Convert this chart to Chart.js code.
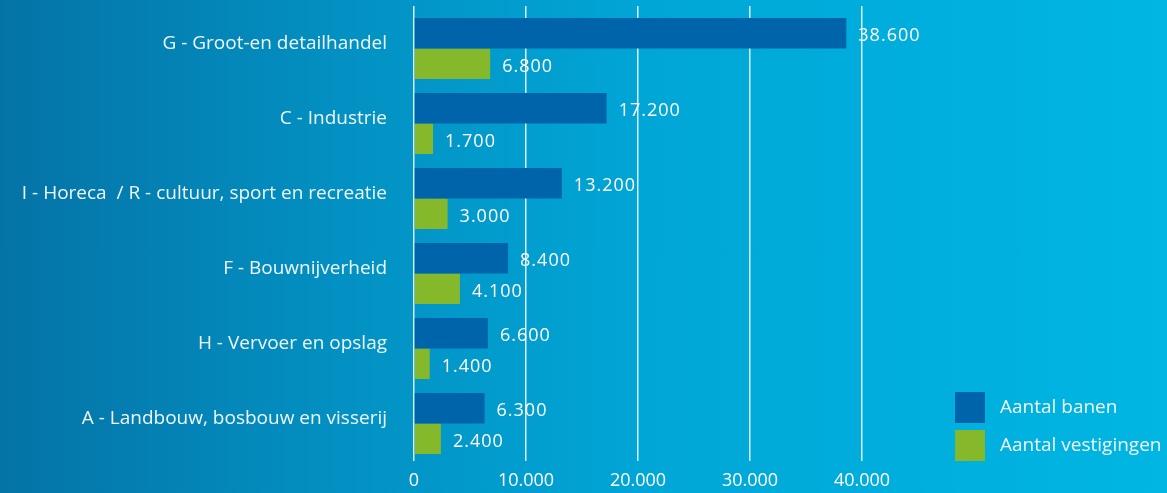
<!DOCTYPE html>
<html lang="nl">
<head>
    <meta charset="UTF-8">
    <title>Banen en vestigingen per sector</title>
    <script src="https://cdn.jsdelivr.net/npm/chart.js"></script>
    <style>
        html, body { margin: 0; padding: 0; }
        body {
            width: 1167px;
            height: 493px;
            overflow: hidden;
            background: linear-gradient(to right, #0573a6 0%, #0391c3 30%, #00a6d6 55%, #00b6e3 100%);
        }
        #wrap { position: relative; width: 1167px; height: 493px; }
    </style>
</head>
<body>
    <div id="wrap">
        <canvas id="myChart"></canvas>
    </div>

    <script>
    // sectors, top to bottom
    var categories = [
        "G - Groot-en detailhandel",
        "C - Industrie",
        "I - Horeca  / R - cultuur, sport en recreatie",
        "F - Bouwnijverheid",
        "H - Vervoer en opslag",
        "A - Landbouw, bosbouw en visserij"
    ];
    var banen = [38600, 17200, 13200, 8400, 6600, 6300];
    var vestigingen = [6800, 1700, 3000, 4100, 1400, 2400];
    var xTicks = [0, 10000, 20000, 30000, 40000];

    // 38600 -> "38.600"
    function fmt(v) {
        return String(v).replace(/\B(?=(\d{3})+(?!\d))/g, ".");
    }

    var fontFam = "'Open Sans', 'Noto Sans', sans-serif";
    var gridColor = "rgba(255,255,255,0.85)";

    function fixedTicks(axis) {
        axis.ticks = xTicks.map(function(v) { return { value: v }; });
    }

    // white value labels next to the bars + legend bottom right
    var extras = {
        id: "extras",
        afterDatasetsDraw: function(chart) {
            var ctx = chart.ctx;
            ctx.save();
            ctx.fillStyle = "#ffffff";
            ctx.font = "18px " + fontFam;
            ctx.letterSpacing = "1px";
            ctx.textAlign = "left";
            ctx.textBaseline = "middle";
            chart.data.datasets.forEach(function(ds, i) {
                chart.getDatasetMeta(i).data.forEach(function(bar, j) {
                    ctx.fillText(fmt(ds.data[j]), bar.x + 12, bar.y + 3);
                });
            });
            ctx.restore();
        },
        afterDraw: function(chart) {
            var ctx = chart.ctx;
            ctx.save();
            ctx.font = "19px " + fontFam;
            ctx.textAlign = "left";
            ctx.textBaseline = "middle";
            chart.data.datasets.forEach(function(ds, i) {
                var y = 392 + i * 38;
                ctx.fillStyle = ds.backgroundColor;
                ctx.fillRect(955, y, 30, 31);
                ctx.fillStyle = "#eef8fc";
                ctx.fillText(ds.label, 1000, y + 16);
            });
            ctx.restore();
        }
    };

    var ctx = document.getElementById("myChart").getContext("2d");
    var myChart = new Chart(ctx, {
        type: "bar",
        data: {
            labels: categories,
            datasets: [{
                label: "Aantal banen",
                data: banen,
                backgroundColor: "#0064aa",
                borderWidth: 0
            }, {
                label: "Aantal vestigingen",
                data: vestigingen,
                backgroundColor: "#86b82c",
                borderWidth: 0
            }]
        },
        options: {
            indexAxis: "y",
            responsive: true,
            maintainAspectRatio: false,
            animation: false,
            layout: { padding: { top: 6, left: 0, right: 305, bottom: 3 } },
            categoryPercentage: 0.813,
            barPercentage: 1.0,
            plugins: {
                legend: { display: false },
                tooltip: { enabled: false }
            },
            scales: {
                x: {
                    min: 0,
                    max: 40000,
                    afterBuildTicks: fixedTicks,
                    afterFit: function(axis) {
                        axis.height = 29;
                    },
                    grid: {
                        color: gridColor,
                        lineWidth: 1.5,
                        drawTicks: false
                    },
                    border: { display: false },
                    ticks: {
                        color: "#ffffff",
                        font: { size: 18, family: fontFam },
                        padding: 9,
                        callback: function(v) { return fmt(v); }
                    }
                },
                // only draws the short stubs of the grid above the bars
                xTop: {
                    type: "linear",
                    position: "top",
                    min: 0,
                    max: 40000,
                    afterBuildTicks: fixedTicks,
                    grid: {
                        color: gridColor,
                        lineWidth: 1.5,
                        drawOnChartArea: false,
                        drawTicks: true,
                        tickLength: 5
                    },
                    border: { display: false },
                    ticks: { display: false }
                },
                y: {
                    afterFit: function(axis) {
                        axis.width = 414;
                        axis.paddingTop = 0;
                        axis.paddingBottom = 0;
                    },
                    grid: { display: false, drawTicks: false },
                    border: { display: false },
                    ticks: {
                        color: "#eef8fc",
                        font: { size: 19, family: fontFam },
                        padding: 27,
                        labelOffset: -5
                    }
                }
            }
        },
        plugins: [extras]
    });
    </script>
</body>
</html>
